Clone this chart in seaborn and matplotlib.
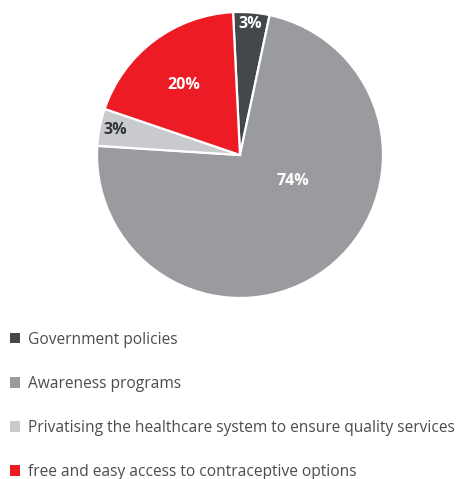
import matplotlib
matplotlib.use("Agg")
import matplotlib.pyplot as plt
import seaborn as sns
import numpy as np

categories = ["Government policies", "Awareness programs",
              "Privatising the healthcare system to ensure quality services",
              "free and easy access to contraceptive options"]
# wedge sizes as drawn in the picture, and the printed labels
wedge_sizes = [4.1, 72.7, 4.2, 19.0]
pct_labels = ["3%", "74%", "3%", "20%"]
colors = ["#43484d", "#999b9e", "#c8cacd", "#ed1c24"]
label_colors = ["white", "white", "#2f3336", "white"]
# (radius fraction, angle offset from wedge middle in degrees)
label_place = [(0.92, 0.0), (0.41, 26.5), (0.89, 0.0), (0.63, 1.8)]

sns.set_theme(style="white")
plt.rcParams['font.family'] = ['Open Sans', 'DejaVu Sans']

fig = plt.figure(figsize=(4.57, 4.79), dpi=100)
ax = fig.add_axes([97/457, (479-298)/479, 286/457, 286/479])
wedges, _ = ax.pie(wedge_sizes, colors=colors, startangle=92.8, counterclock=False,
                   radius=1, wedgeprops=dict(edgecolor="white", linewidth=1.6))
for w, lab, c, (rf, da) in zip(wedges, pct_labels, label_colors, label_place):
    mid = np.deg2rad((w.theta1 + w.theta2) / 2 + da)
    ax.text(rf * np.cos(mid), rf * np.sin(mid), lab, color=c, fontsize=11.5,
            fontweight="bold", ha="center", va="center")
ax.set_xlim(-1, 1)
ax.set_ylim(-1, 1)
ax.set_aspect("equal")
ax.axis("off")

leg = fig.legend(wedges, categories, loc="upper left", bbox_to_anchor=(5/457, 1 - 327/479),
                 frameon=False, fontsize=11.2, handlelength=0.65, handleheight=0.65,
                 handletextpad=0.55, labelspacing=1.81, borderaxespad=0, borderpad=0.3)
for t in leg.get_texts():
    t.set_color("#4a4d4e")
for h in leg.legend_handles:
    h.set_edgecolor("none")

fig.savefig("out.png", dpi=100)
